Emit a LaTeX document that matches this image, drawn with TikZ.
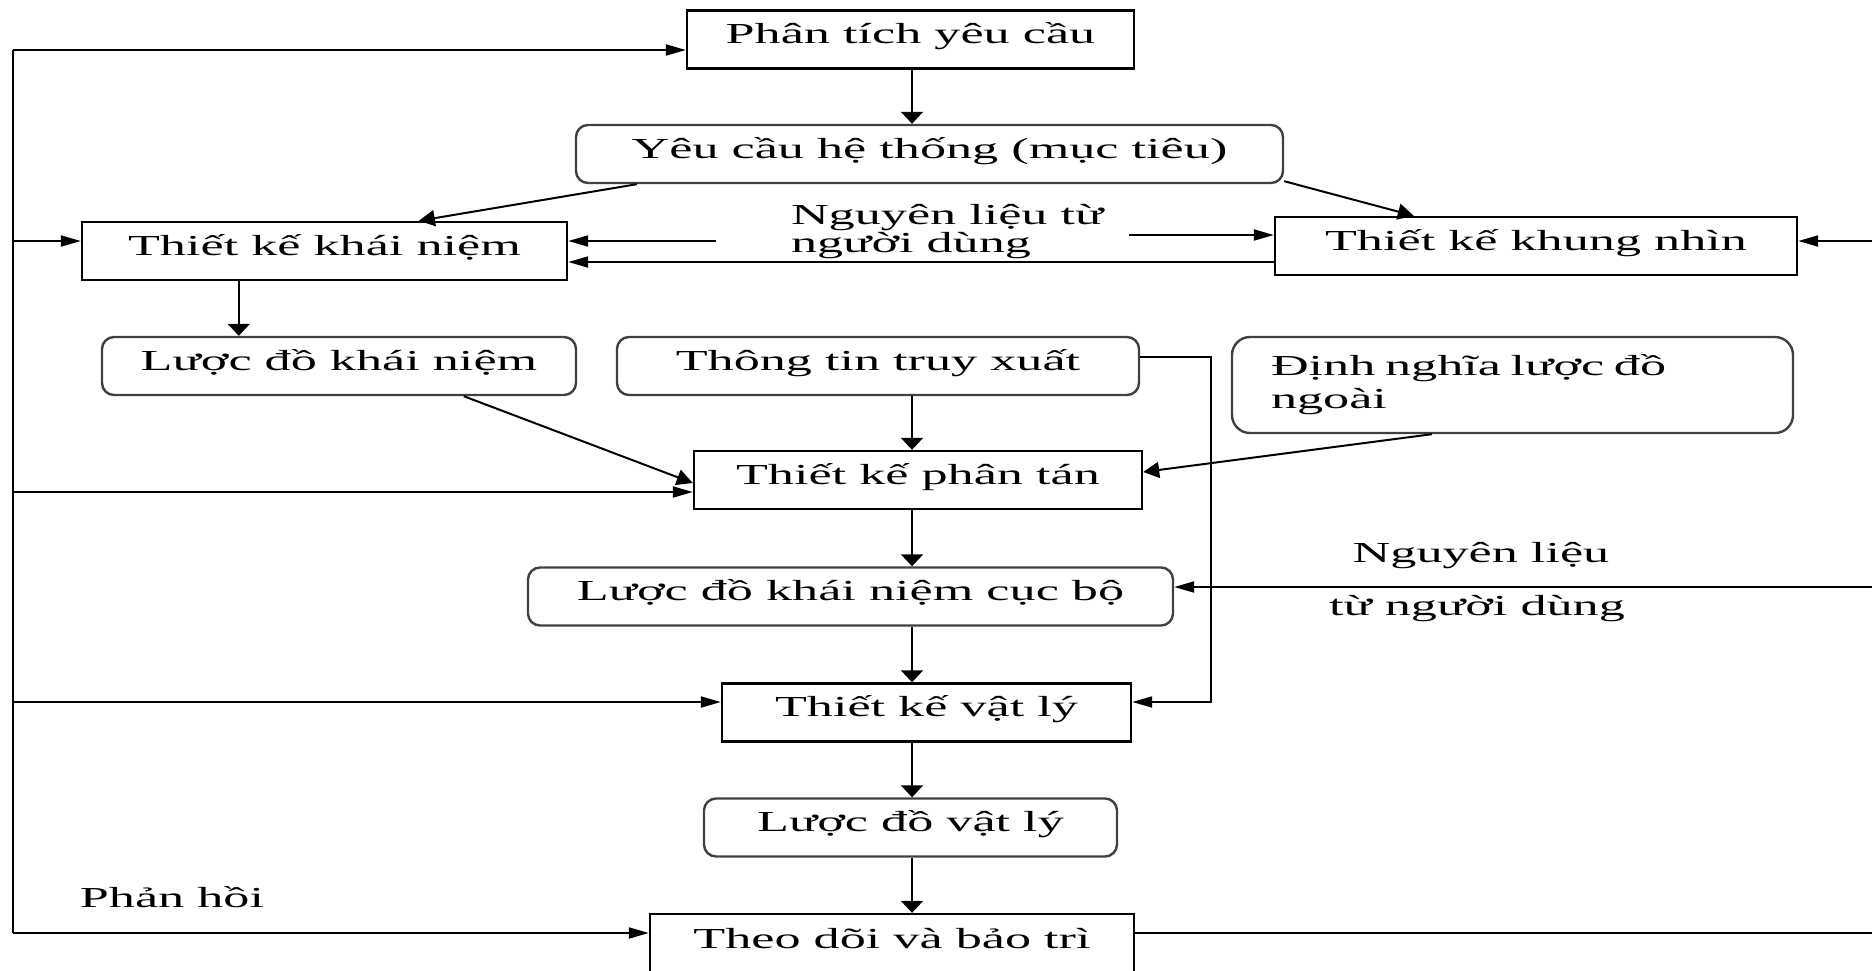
\documentclass[tikz,border=0pt]{standalone}
\usepackage{fontspec}
\setmainfont{Liberation Serif}[FakeStretch=1.8]
\usetikzlibrary{arrows.meta,calc}

\begin{document}
\begin{tikzpicture}[x=.5pt,y=-.5pt,line width=1pt,
  font=\fontsize{14.5}{17}\selectfont,
  frame/.style={draw,line width=1.2pt,inner sep=0pt,minimum height=29pt},
  box/.style={frame,text height=7pt,text depth=3pt},
  rbox/.style={box,draw=black!75,rounded corners=6pt},
  hto/.style={-{Triangle[length=10pt,width=5.5pt]}},
  vto/.style={-{Triangle[length=6pt,width=11pt]}},
  dto/.style={-{Triangle[length=8pt,width=8pt]}}]
 \useasboundingbox (0,0) rectangle (1872,970);
 \node[box,minimum width=223.5pt] (pt) at (910.5,39.5) {Phân tích yêu cầu};
 \node[rbox,minimum width=353.5pt] (yc) at (929.5,154) {Yêu cầu hệ thống (mục tiêu)};
 \node[box,minimum width=242.5pt] (tkkn) at (324.5,251) {Thiết kế khái niệm};
 \node[box,minimum width=261pt] (tkkh) at (1536,246) {Thiết kế khung nhìn};
 \node[rbox,minimum width=237pt] (ldkn) at (339,366) {Lược đồ khái niệm};
 \node[rbox,minimum width=261pt] (tt) at (878,366) {Thông tin truy xuất};
 \node[frame,draw=black!75,rounded corners=9pt,minimum width=280.5pt,minimum height=48pt,
   text width=241.5pt,align=left,font=\fontsize{14.5}{16.5}\selectfont] (dn) at (1512.5,385)
   {Định nghĩa lược đồ\\ngoài};
 \node[box,minimum width=224pt] (tkpt) at (918,480) {Thiết kế phân tán};
 \node[rbox,minimum width=322.5pt] (ldcb) at (850.5,596.5) {Lược đồ khái niệm cục bộ};
 \node[box,minimum width=204.5pt] (tkvl) at (926.5,712.5) {Thiết kế vật lý};
 \node[rbox,minimum width=206.5pt] (ldvl) at (910.5,827.5) {Lược đồ vật lý};
 \node[box,minimum width=242pt,minimum height=30.5pt] (td) at (892,944.5) {Theo dõi và bảo trì};
 % labels
 \node[anchor=west,align=left,inner sep=0pt,font=\fontsize{14.5}{14}\selectfont] (nl) at (790,232)
   {Nguyên liệu từ\\người dùng};
 \node[anchor=base] (nla) at (1481,562) {Nguyên liệu};
 \node[anchor=base] (nlb) at (1477,615) {từ người dùng};
 \node[anchor=base] (ph) at (172,907) {Phản hồi};
 % main column
 \coordinate (axis) at (912,0);
 \foreach \a/\b in {pt/yc,tt/tkpt,tkpt/ldcb,ldcb/tkvl,tkvl/ldvl,ldvl/td}
  \draw[vto] (axis |- \a.south) -- (axis |- \b.north);
 \draw[dto] ($(yc.south west)+(62,0)$) -- ($(tkkn.north west)+(338,0)$);
 \draw[dto] ($(yc.south east)+(0,-3)$) -- ($(tkkh.north west)+(140,0)$);
 \draw[vto] ($(tkkn.south west)+(158,0)$) coordinate (k) -- (k |- ldkn.north);
 \draw[dto] ($(ldkn.south west)+(363,0)$) -- ($(tkpt.west)+(0,3)$);
 \draw[dto] ($(dn.south west)+(201,0)$) -- ($(tkpt.east)+(0,-8)$);
 \draw[hto] ($(tt.east)+(0,-9)$) -- ++(71,0) |- ($(tkvl.east)+(0,-10.5)$);
 % user input
 \coordinate (inl) at (716,241);
 \coordinate (inr) at (1129,235);
 \draw[hto] (inl) -- (inl -| tkkn.east);
 \draw[hto] (inr) -- (inr -| tkkh.west);
 \draw[hto,{Triangle[length=10pt,width=5.5pt]}-] ($(tkkn.east)+(0,11)$) coordinate (u) -- (u -| tkkh.west);
 \coordinate (edge1) at (1872,241);
 \coordinate (edge2) at (1872,587);
 \draw[hto] (edge1) -- (edge1 -| tkkh.east);
 \draw[hto] (edge2) -- (edge2 -| ldcb.east);
 % feedback
 \coordinate (bus) at (13,0);
 \draw ($(td.east)+(0,-11.5)$) -- (1872,933);
 \draw (bus |- 0,50) -- (bus |- 0,933);
 \foreach \n/\d in {pt/10.5,tkkn/-10,tkpt/12,tkvl/-10.5,td/-11.5}{
  \path ($(\n.west)+(0,\d)$) coordinate (e);
  \draw[hto] (e -| bus) -- (e);
 }
\end{tikzpicture}
\end{document}
